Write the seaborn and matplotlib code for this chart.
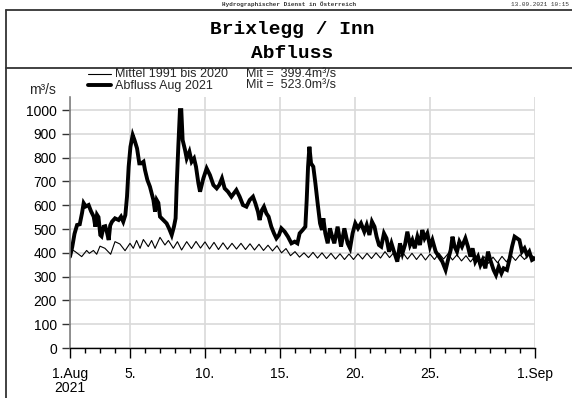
import matplotlib
matplotlib.use("Agg")
import matplotlib.pyplot as plt
import matplotlib.dates as mdates
from matplotlib.lines import Line2D
import pandas as pd
import seaborn as sns

# Abfluss August 2021 (Tage seit 1. Aug 00:00, m³/s)
abfluss_tage = [
    0.0, 0.15, 0.3, 0.47, 0.65, 0.8, 0.91, 1.05, 1.24, 1.4, 1.58, 1.69, 1.8, 1.9,
    2.02, 2.1, 2.24, 2.35, 2.45, 2.58, 2.68, 2.8, 3.0, 3.24, 3.4, 3.55, 3.69, 3.8,
    3.91, 4.03, 4.18, 4.3, 4.47, 4.62, 4.75, 4.9, 5.0, 5.16, 5.33, 5.56, 5.67, 5.78,
    5.89, 6.0, 6.22, 6.44, 6.6, 6.78, 6.93, 7.04, 7.11, 7.22, 7.33, 7.42, 7.51, 7.67,
    7.78, 7.96, 8.11, 8.27, 8.4, 8.56, 8.67, 8.89, 9.11, 9.33, 9.56, 9.78, 9.95,
    10.13, 10.31, 10.53, 10.76, 11.09, 11.31, 11.53, 11.76, 11.98, 12.2, 12.36,
    12.53, 12.64, 12.8, 12.93, 13.09, 13.24, 13.42, 13.6, 13.76, 13.93, 14.09,
    14.31, 14.53, 14.76, 14.98, 15.16, 15.31, 15.51, 15.69, 15.78, 15.87, 15.96,
    16.07, 16.22, 16.36, 16.51, 16.67, 16.8, 16.89, 17.02, 17.18, 17.33, 17.47,
    17.62, 17.84, 18.07, 18.29, 18.51, 18.67, 18.84, 19.02, 19.2, 19.4, 19.62,
    19.78, 19.96, 20.13, 20.3, 20.44, 20.6, 20.75, 20.93, 21.1, 21.27, 21.43, 21.6,
    21.82, 22.0, 22.16, 22.33, 22.49, 22.67, 22.82, 22.98, 23.16, 23.33, 23.49,
    23.64, 23.82, 24.0, 24.16, 24.38, 24.6, 24.82, 25.04, 25.2, 25.38, 25.5, 25.64,
    25.8, 25.96, 26.13, 26.36, 26.53, 26.69, 26.84, 27.02, 27.2, 27.36, 27.51,
    27.69, 27.87, 28.02, 28.24, 28.4, 28.58, 28.76, 28.91, 29.13, 29.29, 29.47,
    29.64, 29.8, 29.96, 30.13, 30.3, 30.47, 30.62, 30.8, 31.0,
]
abfluss_werte = [
    384, 425, 480, 517, 520, 567, 609, 595, 601, 575, 552, 510, 560, 550,
    475, 470, 510, 512, 490, 454, 515, 531, 545, 538, 552, 531, 559, 636,
    762, 846, 895, 874, 839, 776, 776, 783, 748, 706, 678, 622, 573, 622,
    610, 552, 538, 524, 503, 475, 510, 545, 678, 846, 1000, 1000, 874, 832,
    797, 825, 783, 797, 762, 692, 657, 713, 755, 727, 685, 671, 685,
    713, 671, 657, 636, 664, 636, 601, 594, 622, 636, 608,
    573, 538, 580, 594, 566, 552, 510, 482, 461, 475, 503,
    489, 468, 440, 447, 440, 482, 496, 510, 622, 762, 846,
    776, 762, 692, 608, 524, 496, 545, 482, 440, 503, 470,
    440, 510, 426, 503, 440, 419, 482, 524, 503, 524, 489,
    517, 475, 531, 510, 468, 433, 426, 482, 461, 405, 440, 405,
    363, 440, 398, 433, 489, 433, 454, 419, 468, 433, 496,
    461, 482, 426, 454, 405, 384, 363, 328, 370, 412, 468, 426,
    405, 447, 426, 461, 426, 384, 419, 363, 384, 349, 370,
    335, 405, 370, 328, 307, 342, 314, 335, 328, 370, 426,
    468, 461, 454, 405, 419, 391, 405, 370, 377,
]

# Mittel 1991 bis 2020
mittel_tage = [
    0.0, 0.35, 0.78, 1.11, 1.29, 1.56, 1.78, 2.0, 2.33, 2.71, 3.0, 3.33, 3.67, 4.0,
    4.22, 4.44, 4.67, 4.89, 5.22, 5.44, 5.67, 6.0, 6.33, 6.56, 6.89, 7.16, 7.44,
    7.78, 8.1, 8.4, 8.7, 9.0, 9.3, 9.6, 9.9, 10.2, 10.5, 10.8, 11.1, 11.4, 11.7,
    12.0, 12.3, 12.6, 12.9, 13.2, 13.5, 13.8, 14.1, 14.4, 14.7, 15.0, 15.3, 15.6,
    15.9, 16.2, 16.5, 16.8, 17.1, 17.4, 17.7, 18.0, 18.3, 18.6, 18.9, 19.2, 19.5,
    19.8, 20.1, 20.4, 20.7, 21.0, 21.3, 21.6, 21.9, 22.2, 22.5, 22.8, 23.1, 23.4,
    23.7, 24.0, 24.3, 24.6, 24.9, 25.2, 25.5, 25.8, 26.1, 26.4, 26.7, 27.0, 27.3,
    27.6, 27.9, 28.2, 28.5, 28.8, 29.1, 29.4, 29.7, 30.0, 30.3, 30.6, 31.0,
]
mittel_werte = [
    419, 405, 384, 410, 398, 410, 394, 428, 419, 394, 447, 437, 409, 440,
    419, 452, 419, 456, 426, 452, 419, 465, 433, 452, 419, 447, 412,
    447, 418, 448, 420, 446, 416, 444, 414, 442, 415, 440, 416, 440, 414,
    438, 412, 436, 410, 432, 408, 430, 400, 418, 388, 405, 382, 400,
    380, 402, 378, 400, 376, 398, 374, 396, 372, 395, 372, 396, 374,
    398, 376, 400, 378, 405, 380, 402, 376, 400, 374, 398, 372, 396,
    370, 395, 372, 398, 374, 396, 370, 392, 366, 388, 362, 386, 358,
    384, 356, 382, 358, 385, 362, 390, 368, 392, 372, 395, 380,
]

y_ticks = [0, 100, 200, 300, 400, 500, 600, 700, 800, 900, 1000]
x_tick_dates = ["2021-08-01", "2021-08-05", "2021-08-10", "2021-08-15",
                "2021-08-20", "2021-08-25", "2021-09-01"]
x_tick_labels = ["1.Aug\n2021", "5.", "10.", "15.", "20.", "25.", "1.Sep"]

sns.set_theme(style="white")
plt.rcParams["font.family"] = ["Liberation Sans", "DejaVu Sans"]

start = pd.Timestamp("2021-08-01")
df_abfluss = pd.DataFrame({
    "zeit": start + pd.to_timedelta(abfluss_tage, unit="D"),
    "q": abfluss_werte,
})
df_mittel = pd.DataFrame({
    "zeit": start + pd.to_timedelta(mittel_tage, unit="D"),
    "q": mittel_werte,
})

W, H = 572, 398
fig = plt.figure(figsize=(W / 100, H / 100), dpi=100)
fig.patch.set_facecolor("white")

def fx(px):
    return px / W

def fy(py):
    return 1 - py / H

ax = fig.add_axes([fx(70), fy(348), fx(535) - fx(70), fy(97) - fy(348)])
ax.set_facecolor("white")

sns.lineplot(data=df_mittel, x="zeit", y="q", ax=ax, color="black",
             linewidth=0.8, estimator=None, sort=False)
sns.lineplot(data=df_abfluss, x="zeit", y="q", ax=ax, color="black",
             linewidth=2.8, estimator=None, sort=False, solid_joinstyle="miter")

ax.set_xlim(start, pd.Timestamp("2021-09-01"))
ax.set_ylim(0, 1055)
ax.set_xlabel("")
ax.set_ylabel("")

ax.set_yticks(y_ticks)
ax.set_yticklabels([str(v) for v in y_ticks])
ax.set_xticks([mdates.date2num(pd.Timestamp(d)) for d in x_tick_dates])
ax.set_xticklabels(x_tick_labels)
ax.xaxis.set_minor_locator(mdates.DayLocator())

lbl0 = ax.get_xticklabels()[0]
lbl0.set_multialignment("center")
lbl0.set_linespacing(1.0)

ax.grid(True, which="major", color="#d9d9d9", linewidth=1.2)
ax.set_axisbelow(True)

for side in ("top", "right"):
    ax.spines[side].set_visible(False)
ax.spines["left"].set_color("#808080")
ax.spines["left"].set_linewidth(1.2)
ax.spines["bottom"].set_color("black")
ax.spines["bottom"].set_linewidth(1.0)

ax.tick_params(axis="y", which="major", direction="out", length=6, width=1,
               color="#333333", pad=3.5, labelsize=10, labelcolor="black", left=True)
ax.tick_params(axis="x", which="major", direction="out", length=7, width=1,
               color="black", pad=7, labelsize=10, labelcolor="black", bottom=True)
ax.tick_params(axis="x", which="minor", direction="out", length=3.5, width=1,
               color="black", bottom=True)

# Rahmen und Kopfzeile
frame_kw = dict(color="#333333", linewidth=1.3, transform=fig.transFigure)
fig.add_artist(Line2D([fx(6), fx(6)], [fy(10), fy(398)], **frame_kw))
fig.add_artist(Line2D([fx(6), 1], [fy(10), fy(10)], **frame_kw))
fig.add_artist(Line2D([fx(6), 1], [fy(68), fy(68)], **frame_kw))

mono = ["Liberation Mono", "DejaVu Sans Mono"]
fig.text(fx(289), fy(4), "Hydrographischer Dienst in Österreich", family=mono,
         fontsize=4.3, fontweight="bold", ha="center", va="center", color="#333333")
fig.text(fx(569), fy(4), "13.09.2021 10:15", family=mono, fontsize=4.3,
         ha="right", va="center", color="#333333")
fig.text(fx(292), fy(30), "Brixlegg / Inn", family=mono, fontsize=14,
         fontweight="bold", ha="center", va="center", color="black")
fig.text(fx(292), fy(54), "Abfluss", family=mono, fontsize=14,
         fontweight="bold", ha="center", va="center", color="black")

# Legende
fig.add_artist(Line2D([fx(88), fx(111)], [fy(73.5), fy(73.5)], color="black",
                      linewidth=0.8, transform=fig.transFigure))
fig.add_artist(Line2D([fx(88), fx(111)], [fy(85), fy(85)], color="black",
                      linewidth=2.8, transform=fig.transFigure))
fig.text(fx(115), fy(74), "Mittel 1991 bis 2020", fontsize=9, ha="left", va="center")
fig.text(fx(115), fy(85.5), "Abfluss Aug 2021", fontsize=9, ha="left", va="center")
fig.text(fx(246), fy(74), "Mit =  399.4m³/s", fontsize=9, ha="left", va="center")
fig.text(fx(246), fy(85.5), "Mit =  523.0m³/s", fontsize=9, ha="left", va="center")
fig.text(fx(42), fy(90), "m³/s", fontsize=10, ha="center", va="center")

fig.savefig("out.png", dpi=100)
